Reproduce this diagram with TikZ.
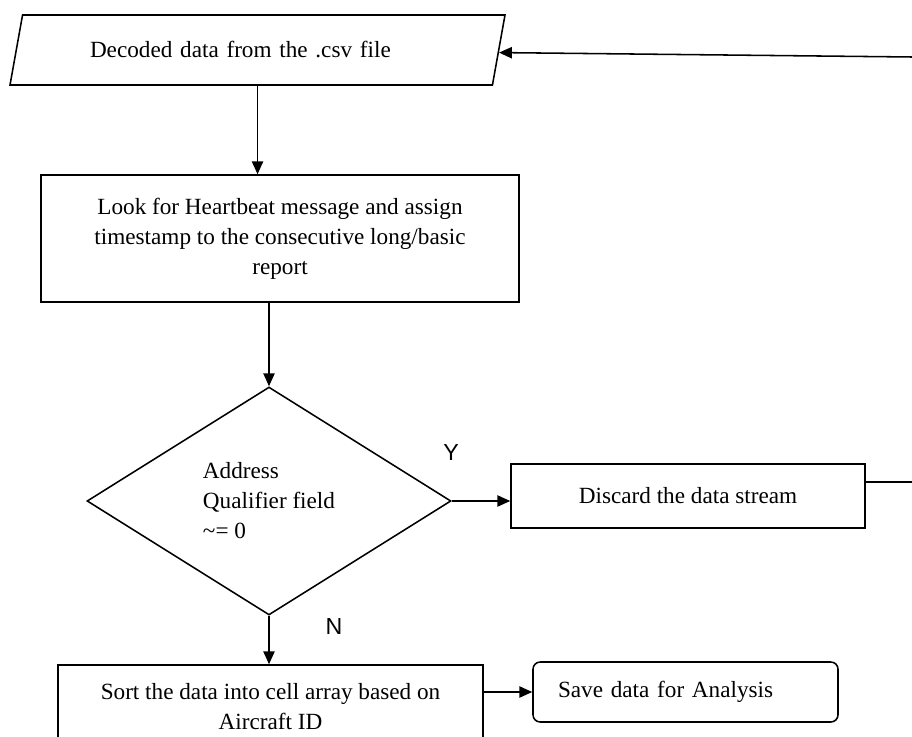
\documentclass[tikz,border=0pt]{standalone}
\usepackage{fontspec}
\setmainfont{Liberation Serif}
\setsansfont{Liberation Sans}
\usetikzlibrary{shapes.geometric,arrows.meta}
\begin{document}
\begin{tikzpicture}[
  line width=1.1pt,
  every node/.style={font=\fontsize{16.5}{21.3}\selectfont},
  arr/.style={-{Triangle[length=3.2mm,width=2.8mm]}},
  proc/.style={draw,rectangle,align=center,inner sep=0pt},
  io/.style={draw,trapezium,trapezium left angle=53,trapezium right angle=127,trapezium stretches body,minimum width=12.375cm,minimum height=1.75cm,inner sep=0pt,text width=8.375cm,align=left},
  dec/.style={draw,diamond,minimum width=9.1cm,minimum height=5.7cm,inner sep=0pt,align=left},
  store/.style={draw,rectangle,rounded corners=0.18cm,minimum width=7.625cm,minimum height=1.5cm,inner sep=0pt,text width=6.375cm,align=left},
  lbl/.style={font=\sffamily\fontsize{16.5}{20}\selectfont,inner sep=0pt}
]
\useasboundingbox (0,0) rectangle (22.8,-18.425);
\clip (0,0) rectangle (22.8,-18.425);
\coordinate (back) at (22.8,-1.425);
\coordinate (ret) at (22.8,-12.05);
\node[io] (inp) at (6.4375,-1.25) {Decoded data from the .csv file};
\node[proc,minimum width=11.95cm,minimum height=3.175cm] (look) at (7.0,-5.9625) {Look for Heartbeat message and assign\\timestamp to the consecutive long/basic\\report};
\node[dec] (qual) at (6.725,-12.525) {Address\\Qualifier field\\\textasciitilde= 0};
\node[proc,minimum width=8.85cm,minimum height=1.6cm] (disc) at (17.2,-12.4) {Discard the data stream};
\node[proc,minimum width=10.625cm,minimum height=2.1cm] (sort) at (6.7625,-17.675) {Sort the data into cell array based on\\Aircraft ID};
\node[store] (save) at (17.1375,-17.3) {Save data for Analysis};
\node[lbl] (yes) at (11.275,-11.325) {Y};
\node[lbl] (no) at (8.35,-15.675) {N};
\draw[arr] (back) -- (inp);
\draw[arr] (inp.south) -- (inp.south |- look.north);
\draw[arr] (qual.north |- look.south) -- (qual.north);
\draw[arr] (qual.east) -- (qual.east -| disc.west);
\draw (ret -| disc.east) -- (ret);
\draw[arr] (qual.south) -- (qual.south |- sort.north);
\draw[arr] (save.west -| sort.east) -- (save.west);
\end{tikzpicture}
\end{document}
